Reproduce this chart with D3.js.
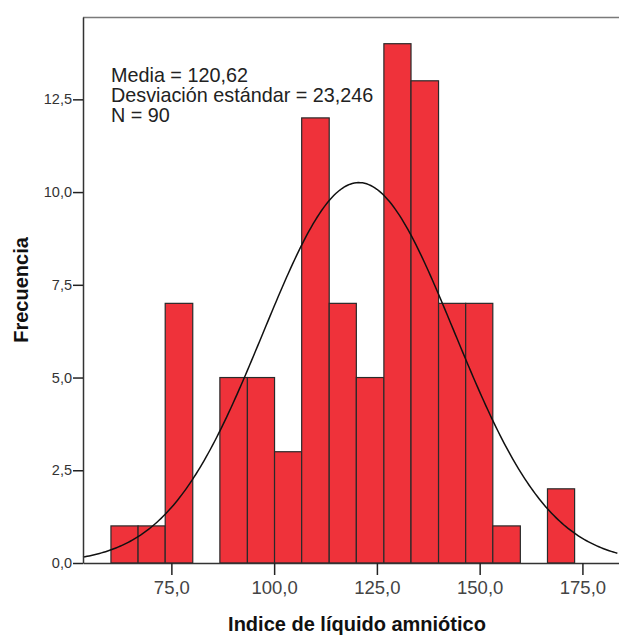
<!DOCTYPE html>
<html>
<head>
<meta charset="utf-8">
<script src="https://cdn.jsdelivr.net/npm/d3@7"></script>
<style>
  body { margin: 0; background: #fff; }
  svg { display: block; font-family: "Liberation Sans", Arial, sans-serif; }
</style>
</head>
<body>
<script>
// histogram bins (lower edge, upper edge) and counts
var binLow  = [60.3, 66.9, 73.5, 80.2, 86.8, 93.5, 100.1, 106.7, 113.4, 120.0, 126.7, 133.3, 140.0, 146.6, 153.2, 159.9, 166.5];
var binHigh = [66.9, 73.5, 80.2, 86.8, 93.5, 100.1, 106.7, 113.4, 120.0, 126.7, 133.3, 140.0, 146.6, 153.2, 159.9, 166.5, 173.1];
var counts  = [1, 1, 7, 0, 5, 5, 3, 12, 7, 5, 14, 13, 7, 7, 1, 0, 2];

var xTicks = [75, 100, 125, 150, 175];
var yTicks = [0, 2.5, 5, 7.5, 10, 12.5];

var media = 120.62, sd = 23.246, n = 90, binW = 6.64;
var statLines = ["Media = 120,62", "Desviación estándar = 23,246", "N = 90"];

var W = 619, H = 635;
var padL = 83, padT = 17, padB = 563, padR = 619;   // plot edges in px

var svg = d3.select("body").append("svg")
    .attr("width", W)
    .attr("height", H);

var x = d3.scaleLinear().domain([53.5, 183.9]).range([padL, padR]);
var y = d3.scaleLinear().domain([0, 14.72]).range([padB, padT]);

var fmt = function(d){ return d3.format(".1f")(d).replace(".", ","); };

// frame top line
svg.append("line")
    .attr("x1", padL).attr("x2", padR)
    .attr("y1", padT + 0.5).attr("y2", padT + 0.5)
    .attr("stroke", "#7a7a7a").attr("stroke-width", 1.5);

// bars
var bins = counts.map(function(c, i){ return {lo: binLow[i], hi: binHigh[i], c: c}; });
svg.selectAll("rect.bar")
    .data(bins.filter(function(d){ return d.c > 0; }))
  .enter().append("rect")
    .attr("class", "bar")
    .attr("x", function(d){ return x(d.lo); })
    .attr("width", function(d){ return x(d.hi) - x(d.lo); })
    .attr("y", function(d){ return y(d.c); })
    .attr("height", function(d){ return y(0) - y(d.c); })
    .attr("fill", "#ef323a")
    .attr("stroke", "#2a2a2a")
    .attr("stroke-width", 1.2);

// normal curve
var xs = d3.range(53.5, 183.9, 0.5);
var curve = xs.map(function(v){
  var z = (v - media) / sd;
  return [v, n * binW * Math.exp(-0.5 * z * z) / (sd * Math.sqrt(2 * Math.PI))];
});
svg.append("path")
    .datum(curve)
    .attr("fill", "none")
    .attr("stroke", "#111")
    .attr("stroke-width", 1.5)
    .attr("d", d3.line().x(function(d){ return x(d[0]); }).y(function(d){ return y(d[1]); }));

// axes
var yAxis = svg.append("g")
    .attr("transform", "translate(" + padL + ",0)")
    .call(d3.axisLeft(y).tickValues(yTicks).tickFormat(fmt).tickSize(10).tickSizeOuter(0));
yAxis.select(".domain").attr("stroke", "#333").attr("stroke-width", 1.5);
yAxis.selectAll(".tick line").attr("stroke", "#222").attr("stroke-width", 1.5);
yAxis.selectAll(".tick text").attr("font-size", 14.5).attr("fill", "#333").attr("x", -11)
    .attr("font-family", "Liberation Sans, Arial, sans-serif");

var xAxis = svg.append("g")
    .attr("transform", "translate(0," + padB + ")")
    .call(d3.axisBottom(x).tickValues(xTicks).tickFormat(fmt).tickSize(12).tickSizeOuter(0));
xAxis.select(".domain").attr("stroke", "#333").attr("stroke-width", 1.5);
xAxis.selectAll(".tick line").attr("stroke", "#222").attr("stroke-width", 1.5);
xAxis.selectAll(".tick text").attr("font-size", 18.5).attr("fill", "#444").attr("y", 18)
    .attr("font-family", "Liberation Sans, Arial, sans-serif");

// stats text
svg.append("g").selectAll("text")
    .data(statLines)
  .enter().append("text")
    .attr("x", 111)
    .attr("y", function(d, i){ return 82 + i * 20; })
    .attr("font-size", 19.8)
    .attr("fill", "#222")
    .text(function(d){ return d; });

// titles
svg.append("text")
    .attr("x", 357).attr("y", 631)
    .attr("text-anchor", "middle")
    .attr("font-size", 20).attr("font-weight", "bold").attr("fill", "#111")
    .text("Indice de líquido amniótico");

svg.append("text")
    .attr("transform", "translate(28,290) rotate(-90)")
    .attr("text-anchor", "middle")
    .attr("font-size", 20).attr("font-weight", "bold").attr("fill", "#111")
    .text("Frecuencia");
</script>
</body>
</html>
